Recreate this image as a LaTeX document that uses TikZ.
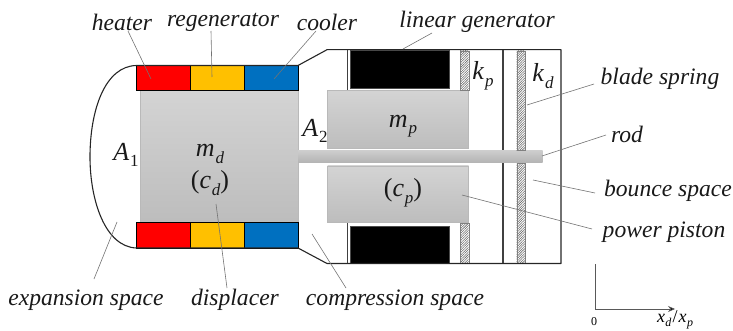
\documentclass[tikz,border=0pt]{standalone}
\usepackage{fontspec}
\setmainfont{Liberation Serif}
\usetikzlibrary{patterns.meta,arrows.meta}
\definecolor{hot}{RGB}{255,0,0}
\definecolor{regen}{RGB}{255,192,0}
\definecolor{cool}{RGB}{0,112,192}
\definecolor{edgegray}{RGB}{185,185,185}
\newcommand{\subsym}[2]{\textit{#1}\kern.8pt\raisebox{-.25em}{\fontsize{17}{17}\selectfont\textit{#2}}}
\newcommand{\subnum}[2]{\textit{#1}\kern.8pt\raisebox{-.25em}{\fontsize{17}{17}\selectfont #2}}
\newcommand{\smallsub}[2]{\textit{#1}\kern.5pt\raisebox{-.25em}{\fontsize{12}{12}\selectfont\textit{#2}}}
\tikzset{
  wall/.style={draw=black!85,line width=1.1pt},
  thinwall/.style={draw=black!75,line width=1.3pt},
  cell/.style={draw=black,line width=.8pt},
  block/.style={draw=edgegray,line width=.6pt,top color=black!17,bottom color=black!26},
  rodbar/.style={draw=none,top color=black!20,bottom color=black!30},
  magnet/.style={fill=black,draw=black!70,line width=.6pt},
  spring/.style={draw=black!50,line width=.4pt,pattern={Lines[angle=45,distance=1.7pt,line width=.55pt]},pattern color=black!60},
  lab/.style={font=\fontsize{23.6}{25}\selectfont\itshape,inner sep=1pt,text=black!90},
  sym/.style={font=\fontsize{26}{28}\selectfont,inner sep=1pt,text=black!90},
  leader/.style={draw=black!55,line width=.6pt},
  axis/.style={draw=black!65,line width=.7pt}
}
\begin{document}
\begin{tikzpicture}[x=1pt,y=-1pt]
\useasboundingbox (0,0) rectangle (733,331);
% blocks
\path[block] (140.5,90.5) rectangle (298,222.5);
\path[rodbar] (298,151) rectangle (542.7,163);
\path[block] (327.7,90.5) rectangle (468.7,148.7);
\path[block] (327.7,166) rectangle (468.7,222.5);
% heat exchangers
\path[cell,fill=hot] (136.5,65.5) rectangle (190.5,90.5);
\path[cell,fill=regen] (190.5,65.5) rectangle (244.5,90.5);
\path[cell,fill=cool] (244.5,65.5) rectangle (298,90.5);
\path[cell,fill=hot] (136.5,222.5) rectangle (190.5,248);
\path[cell,fill=regen] (190.5,222.5) rectangle (244.5,248);
\path[cell,fill=cool] (244.5,222.5) rectangle (298,248);
% generator
\path[magnet] (350.5,50) rectangle (449.7,88);
\path[magnet] (350.5,226) rectangle (449.7,263.5);
% springs
\path[spring] (460,51) rectangle (468.7,90.5);
\path[spring] (460,223.5) rectangle (468.7,263);
\path[spring] (516.7,51) rectangle (525,150.5);
\path[spring] (516.7,163.5) rectangle (525,263);
% casing
\draw[wall,line join=round] (136.5,248) .. controls (105,247) and (90,200) .. (90,157) .. controls (90,110) and (105,66) .. (136.5,65.5)
  -- (298,65.5) -- (327,49.7) -- (561,49.7) -- (561,263.5) -- (327,263.5) -- (298,248) -- cycle;
\draw[thinwall] (347.5,50) -- (347.5,90);
\draw[thinwall] (347.5,223) -- (347.5,263);
\draw[thinwall] (503,50) -- (503,150.5);
\draw[thinwall] (503,163.5) -- (503,263);
% text labels
\node[lab] (heater) at (122,22) {heater};
\node[lab] (regenerator) at (223,22) {regenerator};
\node[lab] (cooler) at (327,22) {cooler};
\node[lab] (lingen) at (477,22) {linear generator};
\node[lab] (blade) at (660,79) {blade spring};
\node[lab] (rod) at (627,134) {rod};
\node[lab] (bounce) at (668,191) {bounce space};
\node[lab] (ppiston) at (664,232) {power piston};
\node[lab] (expansion) at (86,300) {expansion space};
\node[lab] (displacer) at (235,300) {displacer};
\node[lab] (compression) at (395,300) {compression space};
\node[sym] (A1) at (126,155) {\subnum{A}{1}};
\node[sym] (A2) at (315,131) {\subnum{A}{2}};
\node[sym] (md) at (210,154) {\subsym{m}{d}};
\node[sym] (cd) at (210,183) {(\subsym{c}{d})};
\node[sym] (mp) at (403,126) {\subsym{m}{p}};
\node[sym] (cp) at (403,193) {(\subsym{c}{p})};
\node[sym] (kp) at (483,76) {\subsym{k}{p}};
\node[sym] (kd) at (543,76) {\subsym{k}{d}};
\node[font=\fontsize{12}{13}\selectfont,inner sep=0pt] (zero) at (594,322) {0};
\node[font=\fontsize{18}{19}\selectfont,inner sep=0pt] (xlabel) at (675,320) {\smallsub{x}{d}\kern1pt/\kern1pt\smallsub{x}{p}};
% leader tips
\coordinate (theater) at (151,79);
\coordinate (tregen) at (212,77);
\coordinate (tcool) at (274,79);
\coordinate (tgen) at (403,49);
\coordinate (tblade) at (527,105);
\coordinate (trod) at (542,156);
\coordinate (tbounce) at (533,180);
\coordinate (tpiston) at (462,195);
\coordinate (texp) at (117,222);
\coordinate (tdisp) at (216,204);
\coordinate (tcomp) at (312,234);
\coordinate (sheater) at (128,31);
\coordinate (sregen) at (211,31);
\coordinate (scool) at (316,31);
\coordinate (sgen) at (432,33);
\coordinate (sblade) at (594,84);
\coordinate (srod) at (606,135);
\coordinate (sbounce) at (595,193);
\coordinate (spiston) at (592,229);
\coordinate (sexp) at (94,279);
\coordinate (sdisp) at (227,288);
\coordinate (scomp) at (346,288);
\draw[leader] (sheater) -- (theater);
\draw[leader] (sregen) -- (tregen);
\draw[leader] (scool) -- (tcool);
\draw[leader] (sgen) -- (tgen);
\draw[leader] (sblade) -- (tblade);
\draw[leader] (srod) -- (trod);
\draw[leader] (sbounce) -- (tbounce);
\draw[leader] (spiston) -- (tpiston);
\draw[leader] (sexp) -- (texp);
\draw[leader] (sdisp) -- (tdisp);
\draw[leader] (scomp) -- (tcomp);
% axes
\coordinate (origin) at (595,309);
\coordinate (ytop) at (595,264);
\coordinate (xend) at (675,309);
\draw[axis] (ytop) -- (origin);
\draw[axis,-{Stealth[length=7pt,width=6pt,fill=black]}] (origin) -- (xend);
\end{tikzpicture}
\end{document}
